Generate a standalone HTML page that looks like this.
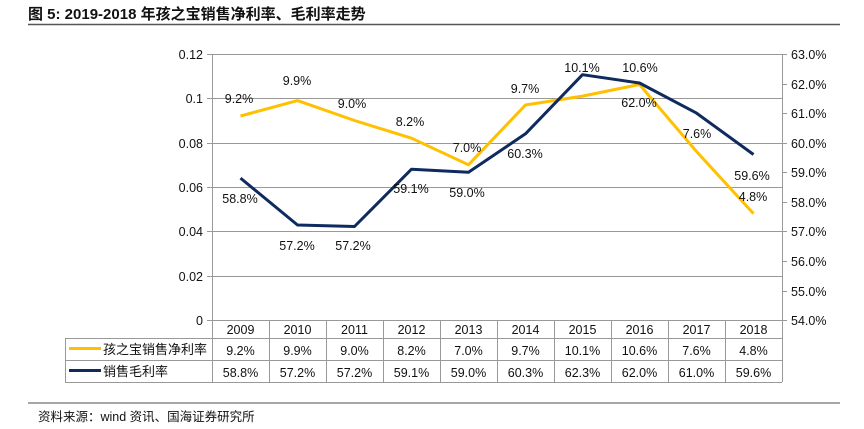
<!DOCTYPE html>
<html><head><meta charset="utf-8"><style>
body{margin:0;background:#fff;}
svg text{font-family:"Liberation Sans","Noto Sans CJK SC",sans-serif;fill:#111;}
</style></head><body>
<svg width="864" height="424" viewBox="0 0 864 424" xmlns="http://www.w3.org/2000/svg">
<text x="28" y="19" font-size="15" font-weight="bold">图 5:  2019-2018 年孩之宝销售净利率、毛利率走势</text>
<line x1="28" y1="24.5" x2="840" y2="24.5" stroke="#555" stroke-width="1.5"/>
<g stroke="#999" stroke-width="1">
<line x1="212" y1="54.5" x2="782" y2="54.5"/>
<line x1="212" y1="98.5" x2="782" y2="98.5"/>
<line x1="212" y1="143.5" x2="782" y2="143.5"/>
<line x1="212" y1="187.5" x2="782" y2="187.5"/>
<line x1="212" y1="231.5" x2="782" y2="231.5"/>
<line x1="212" y1="276.5" x2="782" y2="276.5"/>
<line x1="212.5" y1="54" x2="212.5" y2="382"/>
<line x1="782.5" y1="54" x2="782.5" y2="382"/>
<g>
<line x1="207" y1="54.5" x2="212" y2="54.5"/><line x1="207" y1="98.5" x2="212" y2="98.5"/><line x1="207" y1="143.5" x2="212" y2="143.5"/><line x1="207" y1="187.5" x2="212" y2="187.5"/><line x1="207" y1="231.5" x2="212" y2="231.5"/><line x1="207" y1="276.5" x2="212" y2="276.5"/><line x1="207" y1="320.5" x2="212" y2="320.5"/>
<line x1="782" y1="54.5" x2="787" y2="54.5"/><line x1="782" y1="84.5" x2="787" y2="84.5"/><line x1="782" y1="113.5" x2="787" y2="113.5"/><line x1="782" y1="143.5" x2="787" y2="143.5"/><line x1="782" y1="172.5" x2="787" y2="172.5"/><line x1="782" y1="202.5" x2="787" y2="202.5"/><line x1="782" y1="231.5" x2="787" y2="231.5"/><line x1="782" y1="261.5" x2="787" y2="261.5"/><line x1="782" y1="291.5" x2="787" y2="291.5"/><line x1="782" y1="320.5" x2="787" y2="320.5"/>
</g>
<!-- table -->
<line x1="212" y1="320.5" x2="782" y2="320.5"/>
<line x1="212" y1="338.5" x2="782" y2="338.5"/>
<line x1="65" y1="338.5" x2="212" y2="338.5"/>
<line x1="65" y1="360.5" x2="782" y2="360.5"/>
<line x1="65" y1="382.5" x2="782" y2="382.5"/>
<line x1="65.5" y1="338" x2="65.5" y2="382"/>
<line x1="269.5" y1="320" x2="269.5" y2="382"/><line x1="326.5" y1="320" x2="326.5" y2="382"/><line x1="383.5" y1="320" x2="383.5" y2="382"/><line x1="440.5" y1="320" x2="440.5" y2="382"/><line x1="497.5" y1="320" x2="497.5" y2="382"/><line x1="554.5" y1="320" x2="554.5" y2="382"/><line x1="611.5" y1="320" x2="611.5" y2="382"/><line x1="668.5" y1="320" x2="668.5" y2="382"/><line x1="725.5" y1="320" x2="725.5" y2="382"/>
</g>
<g font-size="12.5" text-anchor="end">
<text x="203" y="59">0.12</text><text x="203" y="103">0.1</text><text x="203" y="148">0.08</text><text x="203" y="192">0.06</text><text x="203" y="236">0.04</text><text x="203" y="281">0.02</text><text x="203" y="325">0</text>
</g>
<g font-size="12.5">
<text x="791" y="59">63.0%</text><text x="791" y="89">62.0%</text><text x="791" y="118">61.0%</text><text x="791" y="148">60.0%</text><text x="791" y="177">59.0%</text><text x="791" y="207">58.0%</text><text x="791" y="236">57.0%</text><text x="791" y="266">56.0%</text><text x="791" y="296">55.0%</text><text x="791" y="325">54.0%</text>
</g>
<polyline fill="none" stroke="#ffc000" stroke-width="3" stroke-linejoin="round" points="240.5,116 297.5,100.6 354.5,120.5 411.5,138.2 468.5,164.8 525.5,105 582.5,96.1 639.5,84.5 696.5,151.5 753.5,213.6"/>
<polyline fill="none" stroke="#0f2a5f" stroke-width="3" stroke-linejoin="round" points="240.5,178.1 297.5,225 354.5,226.5 411.5,169.2 468.5,172.2 525.5,133.8 582.5,74.7 639.5,83 696.5,113.1 753.5,154.5"/>
<g font-size="12.5" text-anchor="middle">
<text x="239" y="103">9.2%</text><text x="297" y="85">9.9%</text><text x="352" y="108">9.0%</text><text x="410" y="126">8.2%</text><text x="467" y="152">7.0%</text><text x="525" y="93">9.7%</text><text x="582" y="72">10.1%</text><text x="640" y="72">10.6%</text><text x="697" y="138">7.6%</text><text x="753" y="201">4.8%</text>
<text x="240" y="203">58.8%</text><text x="297" y="250">57.2%</text><text x="353" y="250">57.2%</text><text x="411" y="193">59.1%</text><text x="467" y="197">59.0%</text><text x="525" y="158">60.3%</text><text x="639" y="107">62.0%</text><text x="752" y="180">59.6%</text>
</g>
<g font-size="12.5" text-anchor="middle">
<text x="240.5" y="334">2009</text><text x="297.5" y="334">2010</text><text x="354.5" y="334">2011</text><text x="411.5" y="334">2012</text><text x="468.5" y="334">2013</text><text x="525.5" y="334">2014</text><text x="582.5" y="334">2015</text><text x="639.5" y="334">2016</text><text x="696.5" y="334">2017</text><text x="753.5" y="334">2018</text>
<text x="240.5" y="355">9.2%</text><text x="297.5" y="355">9.9%</text><text x="354.5" y="355">9.0%</text><text x="411.5" y="355">8.2%</text><text x="468.5" y="355">7.0%</text><text x="525.5" y="355">9.7%</text><text x="582.5" y="355">10.1%</text><text x="639.5" y="355">10.6%</text><text x="696.5" y="355">7.6%</text><text x="753.5" y="355">4.8%</text>
<text x="240.5" y="377">58.8%</text><text x="297.5" y="377">57.2%</text><text x="354.5" y="377">57.2%</text><text x="411.5" y="377">59.1%</text><text x="468.5" y="377">59.0%</text><text x="525.5" y="377">60.3%</text><text x="582.5" y="377">62.3%</text><text x="639.5" y="377">62.0%</text><text x="696.5" y="377">61.0%</text><text x="753.5" y="377">59.6%</text>
</g>
<line x1="69" y1="348.5" x2="101" y2="348.5" stroke="#ffc000" stroke-width="3"/>
<line x1="69" y1="370.5" x2="101" y2="370.5" stroke="#0f2a5f" stroke-width="3"/>
<text x="103" y="354" font-size="13">孩之宝销售净利率</text>
<text x="103" y="376" font-size="13">销售毛利率</text>
<line x1="28" y1="403" x2="840" y2="403" stroke="#888" stroke-width="1.5"/>
<text x="38" y="421" font-size="12.5">资料来源：wind 资讯、国海证券研究所</text>
</svg>
</body></html>
